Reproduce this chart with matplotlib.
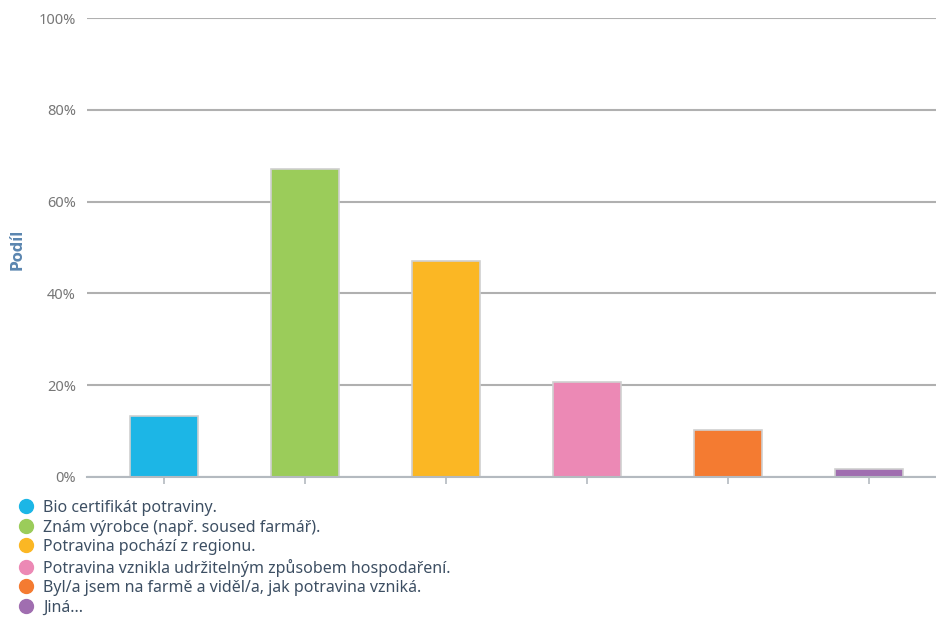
import matplotlib
matplotlib.use("Agg")
import matplotlib.pyplot as plt
from matplotlib.lines import Line2D
from matplotlib.ticker import FuncFormatter

plt.rcParams["font.family"] = ["Noto Sans", "DejaVu Sans"]

categories = [
    "Bio certifikát potraviny.",
    "Znám výrobce (např. soused farmář).",
    "Potravina pochází z regionu.",
    "Potravina vznikla udržitelným způsobem hospodaření.",
    "Byl/a jsem na farmě a viděl/a, jak potravina vzniká.",
    "Jiná...",
]
shares = [13.3, 67.1, 47.1, 20.7, 10.2, 1.7]
colors = ["#1cb6e6", "#9bcc5a", "#fbb724", "#ec89b5", "#f47b31", "#a06eb0"]
yticks = [0, 20, 40, 60, 80, 100]

W, H = 936, 617
fig = plt.figure(figsize=(W / 100, H / 100), dpi=100)
ax = fig.add_axes([87 / W, 1 - 477 / H, (936 - 87) / W, (477 - 18) / H])

x = list(range(len(categories)))
ax.bar(x, shares, width=0.48, color=colors, edgecolor="#d0d0d0", linewidth=1.2, zorder=3)

ax.set_xlim(-0.546, 5.475)
ax.set_ylim(0, 100)
ax.set_yticks(yticks)
ax.yaxis.set_major_formatter(FuncFormatter(lambda v, _: f"{v:.0f}%"))
ax.grid(axis="y", color="#b0b0b0", linewidth=1.5, zorder=0)
ax.set_xticks(x)
ax.set_xticklabels([])

for side in ("top", "right", "left"):
    ax.spines[side].set_visible(False)
ax.spines["bottom"].set_color("#b4bac0")
ax.spines["bottom"].set_linewidth(1.5)
ax.spines["bottom"].set_zorder(4)

ax.tick_params(axis="y", length=0, pad=8, labelsize=10.5, labelcolor="#777777")
ax.tick_params(axis="x", length=5, width=1.2, color="#b4bac0")

fig.text(17 / W, 1 - 249 / H, "Podíl", rotation=90, ha="center", va="center",
         fontsize=10.5, fontweight="bold", color="#5b86b0", family=["DejaVu Sans"])

handles = [
    Line2D([0], [0], marker="o", linestyle="none", markersize=10,
           markerfacecolor=c, markeredgecolor=c)
    for c in colors
]
fig.legend(
    handles, categories,
    loc="upper left", bbox_to_anchor=(20 / W, 1 - 500 / H),
    frameon=False, fontsize=11.5, labelcolor="#3d4f63",
    handlelength=0.7, handletextpad=0.75, labelspacing=0.22,
    borderaxespad=0, borderpad=0,
)

fig.savefig("out.png", dpi=100)
